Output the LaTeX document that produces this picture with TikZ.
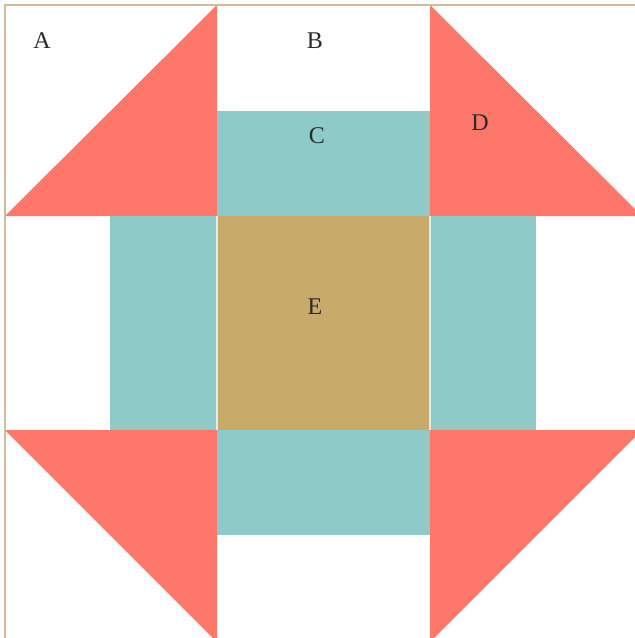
\documentclass[tikz,border=0pt]{standalone}
\usepackage{xcolor}
\usepackage{fontspec}
\setmainfont{Liberation Serif}
\usetikzlibrary{positioning,calc}

\definecolor{patchred}{HTML}{FF776B}
\definecolor{patchteal}{HTML}{8ECBC8}
\definecolor{patchtan}{HTML}{C8AB6A}
\definecolor{rimtan}{HTML}{D2BE96}
\definecolor{inkgray}{HTML}{2B2B2B}

\begin{document}
\begin{tikzpicture}[x=1pt, y=-1pt,
    red patch/.style={fill=patchred, draw=none},
    teal patch/.style={fill=patchteal, draw=none},
    tan patch/.style={fill=patchtan, draw=none},
    letter/.style={text=inkgray, font=\fontsize{24}{28}\selectfont, inner sep=0pt}]
    \useasboundingbox (0,0) rectangle (635,638);
    \fill[white] (0,0) rectangle (635,638);
    \begin{scope}
    \clip (0,0) rectangle (635,638);
    % corner triangles
    \fill[red patch] (5,216) -- (217,216) -- (217,5) -- cycle;
    \fill[red patch] (430,5) -- (430,216) -- (642,216) -- cycle;
    \fill[red patch] (5,430) -- (217,430) -- (217,642) -- cycle;
    \fill[red patch] (430,430) -- (642,430) -- (430,642) -- cycle;
    % side bars
    \fill[teal patch] (217,111) rectangle (430,216);
    \fill[teal patch] (110,216) rectangle (217,430);
    \fill[teal patch] (430,216) rectangle (536,430);
    \fill[teal patch] (217,430) rectangle (430,535);
    % centre
    \fill[tan patch] (217,216) rectangle (430,430);
    \draw[white, opacity=0.7, line width=1.5pt] (217,216) -- (217,430)
      (430,216) -- (430,430);
    % frame
    \draw[rimtan, line width=2pt] (4.5,638) -- (4.5,4.5) -- (635,4.5);
    \end{scope}
    \node[letter] (A) at (42,41) {A};
    \node[letter] (B) at (315,41) {B};
    \node[letter] (C) at (317,136) {C};
    \node[letter] (D) at (480,123) {D};
    \node[letter] (E) at (315,307) {E};
\end{tikzpicture}
\end{document}
